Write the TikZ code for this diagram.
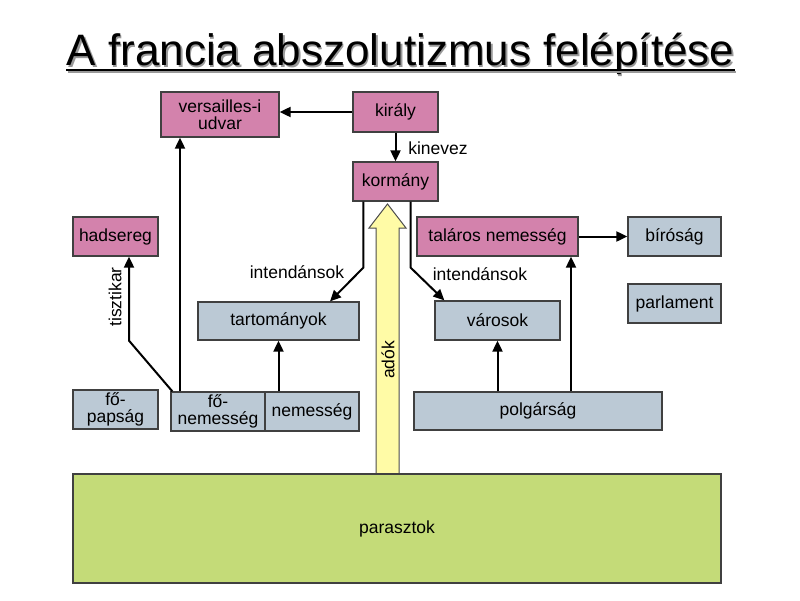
\documentclass[tikz,border=0pt]{standalone}
\usepackage{fontspec}
\setmainfont{Liberation Sans}
\usetikzlibrary{arrows.meta,calc}
\definecolor{rozsa}{RGB}{211,130,172}
\definecolor{szurke}{RGB}{187,201,213}
\definecolor{zold}{RGB}{196,219,120}
\definecolor{sarga}{RGB}{255,251,166}

\begin{document}
\begin{tikzpicture}[x=1pt,y=-1pt,
  box/.style={draw=black!75,line width=1.3pt,inner sep=0pt,align=center,
    font=\fontsize{17.5}{17}\selectfont},
  pinkbox/.style={box,fill=rozsa},
  greybox/.style={box,fill=szurke},
  arr/.style={line width=2pt,-{Triangle[length=11pt,width=10pt]}},
  lbl/.style={font=\fontsize{17.5}{17}\selectfont,inner sep=0pt},
  titlefont/.style={font=\fontsize{44}{44}\selectfont,anchor=base,inner sep=0pt}]
  \useasboundingbox[fill=white] (0,0) rectangle (800,600);
  % title with its shadow
  \node[titlefont,black!40] (titleshadow) at (402,67) {A francia abszolutizmus felépítése};
  \node[titlefont]          (title)       at (400.5,65) {A francia abszolutizmus felépítése};
  \draw[black!40,line width=2pt] ($(title.base west)+(1.5,7)$) -- ($(title.base east)+(1.5,7)$);
  \draw[black,line width=2pt]    ($(title.base west)+(0,5)$) -- ($(title.base east)+(0,5)$);
  % top row
  \node[pinkbox,minimum width=118pt,minimum height=45pt] (versailles) at (220,114.5) {versailles-i\\udvar};
  \node[pinkbox,minimum width=85pt,minimum height=40pt]  (kiraly)     at (395.5,112) {király};
  \node[pinkbox,minimum width=85pt,minimum height=39pt]  (kormany)    at (395.5,181.5) {kormány};
  % middle rows
  \node[pinkbox,minimum width=85pt,minimum height=39pt]  (hadsereg)   at (115.5,236.5) {hadsereg};
  \node[pinkbox,minimum width=161pt,minimum height=39pt] (talaros)    at (497.5,236.5) {taláros nemesség};
  \node[greybox,minimum width=93pt,minimum height=39pt]  (birosag)    at (674.5,236.5) {bíróság};
  \node[greybox,minimum width=93pt,minimum height=39pt]  (parlament)  at (674.5,303.5) {parlament};
  \node[greybox,minimum width=161pt,minimum height=38pt] (tartomanyok) at (278.5,321) {tartományok};
  \node[greybox,minimum width=125pt,minimum height=39pt] (varosok)    at (497.5,320.5) {városok};
  % lower row
  \node[greybox,minimum width=85pt,minimum height=39pt]  (fopapsag)   at (115.5,409.5) {fő-\\papság};
  \node[greybox,minimum width=94pt,minimum height=39pt]  (fonemesseg) at (218,411.5) {fő-\\nemesség};
  \node[greybox,minimum width=94pt,minimum height=39pt]  (nemesseg)   at (312,411.5) {nemesség};
  \node[greybox,minimum width=248pt,minimum height=38pt] (polgarsag)  at (538,411) {polgárság};
  % taxes going up
  \coordinate (adotip) at (387.5,204);
  \draw[fill=sarga,draw=black!70,line width=1pt] (376,474) -- (376,228) -- (369,228) -- (adotip)
    -- (406,228) -- (399,228) -- (399,474);
  \node[lbl,rotate=90] (adok) at (388,360) {adók};
  \node[box,fill=zold,minimum width=648pt,minimum height=109pt] (parasztok) at (397,528.5) {parasztok};
  % connectors
  \draw[arr] (kiraly.west) -- (kiraly.west -| versailles.east);
  \draw[arr] (kiraly) -- (kormany);
  \node[lbl] (kinevez) at (438,148) {kinevez};
  \draw[arr] ($(kormany.south west)+(11,0)$) -- ++(0,66) -- ($(tartomanyok.north)+(51.5,0)$);
  \draw[arr] ($(kormany.south east)+(-28,0)$) -- ++(0,66) -- ($(varosok.north west)+(10,0)$);
  \node[lbl] (intend1) at (297,272) {intendánsok};
  \node[lbl] (intend2) at (480,274) {intendánsok};
  \draw[arr] (talaros) -- (birosag);
  \draw[arr] (polgarsag.north -| varosok.south) -- (varosok.south);
  \draw[arr] ($(polgarsag.north)+(33,0)$) coordinate (p2) -- (p2 |- talaros.south);
  \draw[arr] (nemesseg.north -| tartomanyok.south) -- (tartomanyok.south);
  \draw[arr] ($(fonemesseg.north)+(-38,0)$) coordinate (f1) -- (f1 |- versailles.south);
  \draw[arr] ($(fonemesseg.north west)+(2,0)$) -- ($(hadsereg.south)+(13.5,84)$) -- ($(hadsereg.south)+(13.5,0)$);
  \node[lbl,rotate=90] (tisztikar) at (115,297) {tisztikar};
\end{tikzpicture}
\end{document}
